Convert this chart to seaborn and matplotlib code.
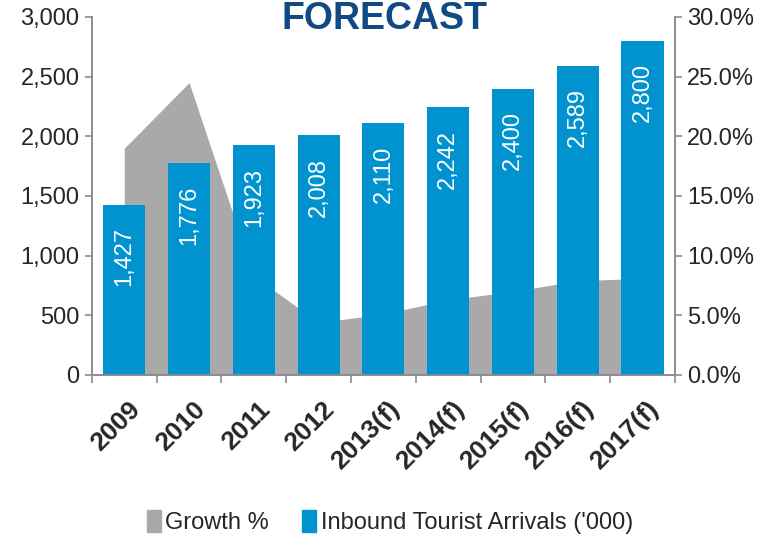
import numpy as np
import matplotlib.pyplot as plt
import seaborn as sns
from matplotlib.patches import Patch
from matplotlib.ticker import FuncFormatter

# values
years = ["2009", "2010", "2011", "2012", "2013(f)", "2014(f)", "2015(f)", "2016(f)", "2017(f)"]
arrivals = [1427, 1776, 1923, 2008, 2110, 2242, 2400, 2589, 2800]  # '000
growth = [19.0, 24.5, 8.3, 4.4, 5.1, 6.3, 7.0, 7.9, 8.1]  # %

blue = "#0093CF"
grey = "#A9A9A9"
axis_grey = "#8C8C8C"

sns.set_style("white")
plt.rcParams['font.family'] = ['Liberation Sans', 'DejaVu Sans']

fig = plt.figure(figsize=(7.66, 5.40), dpi=100)
ax = fig.add_axes([0.120, 0.3056, 0.761, 0.663])
ax2 = ax.twinx()

# growth area behind the bars
pos = np.arange(len(years))
ax2.fill_between(pos, growth, color=grey, lw=0)
ax2.set_ylim(0, 30)

sns.barplot(x=years, y=arrivals, color=blue, saturation=1, width=0.65,
            linewidth=0, edgecolor=blue, ax=ax)
ax.set_zorder(ax2.get_zorder() + 1)
ax.patch.set_visible(False)
ax.set_ylim(0, 3000)
ax.set_xlim(-0.5, len(years) - 0.5)

# labels inside the bars
for i, v in enumerate(arrivals):
    ax.annotate(f"{v:,}", (i, v), xytext=(0, -16), textcoords="offset points",
                rotation=90, ha="center", va="top", color="white", fontsize=17)

# axes styling
for a in (ax, ax2):
    for s in a.spines.values():
        s.set_color(axis_grey)
        s.set_linewidth(1.2)
    a.spines["top"].set_visible(False)

ax.set_yticks(np.arange(0, 3001, 500))
ax.yaxis.set_major_formatter(FuncFormatter(lambda v, p: f"{v:,.0f}"))
ax2.set_yticks(np.arange(0, 31, 5))
ax2.yaxis.set_major_formatter(FuncFormatter(lambda v, p: f"{v:.1f}%"))
ax.tick_params(axis="y", length=5, width=1.2, color=axis_grey, labelsize=17, pad=4, left=True)
ax2.tick_params(axis="y", length=5, width=1.2, color=axis_grey, labelsize=17, pad=4, right=True)

ax.set_xticks(pos + 0.06)
ax.set_xticklabels(years, rotation=45, ha="right", rotation_mode="anchor",
                   fontsize=19, fontweight="bold")
ax.set_xticks(np.arange(-0.5, len(years)), minor=True)
ax.tick_params(axis="x", which="major", length=0, pad=16)
ax.tick_params(axis="x", which="minor", length=6, width=1.2, color=axis_grey, bottom=True)
ax.set_xlabel("")
ax.set_ylabel("")

fig.text(0.5025, 1 - 29 / 540, "FORECAST", ha="center", va="baseline",
         fontsize=27, fontweight="bold", color="#0F4A85")

handles = [Patch(color=grey, label="Growth %"),
           Patch(color=blue, label="Inbound Tourist Arrivals ('000)")]
fig.legend(handles=handles, loc="center", bbox_to_anchor=(390 / 766, 1 - 522 / 540),
           ncol=2, frameon=False, fontsize=17, handlelength=0.6, handleheight=1.1,
           handletextpad=0.2, columnspacing=1.4)

fig.savefig("out.png", dpi=100)
